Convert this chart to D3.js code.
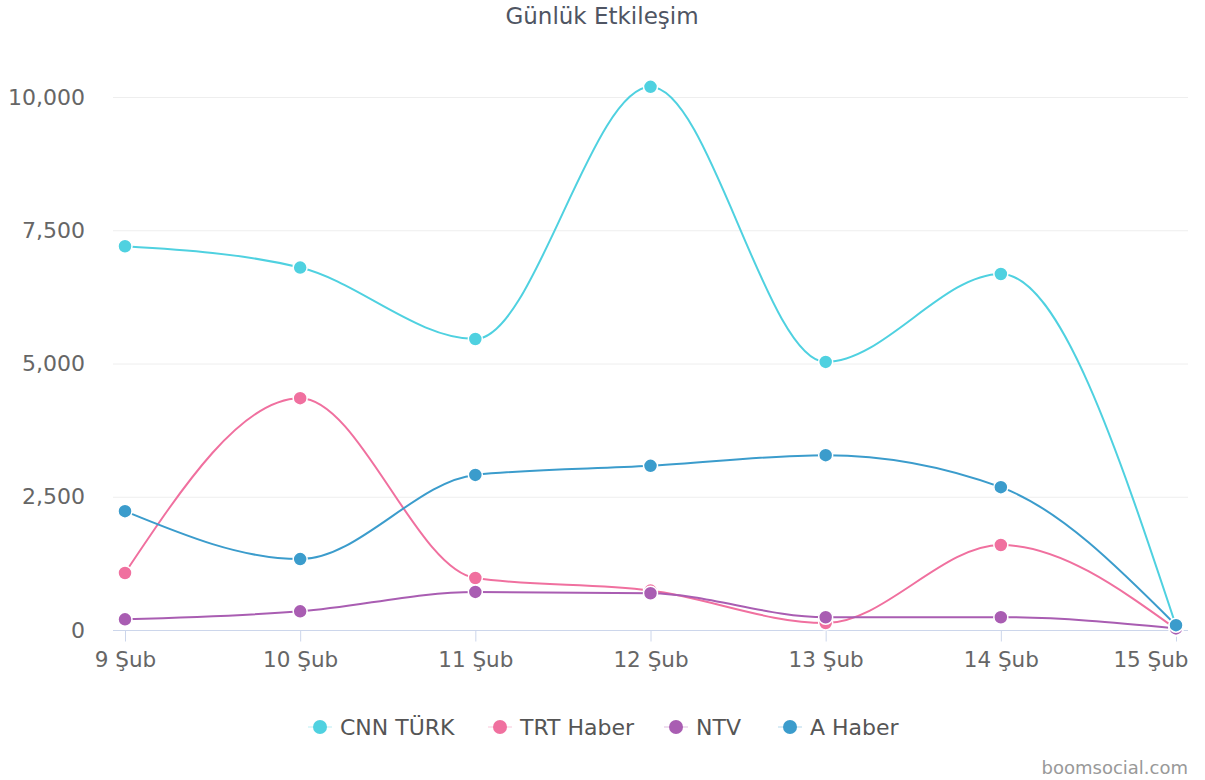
<!DOCTYPE html>
<html>
<head>
<meta charset="utf-8">
<script src="https://cdn.jsdelivr.net/npm/d3@7"></script>
<style>
  body { margin: 0; background: #fff; }
  text { font-family: "DejaVu Sans", sans-serif; }
</style>
</head>
<body>
<div id="chart"></div>
<script>
// data
var days = ["9 Şub", "10 Şub", "11 Şub", "12 Şub", "13 Şub", "14 Şub", "15 Şub"];
var cnnTurk = [7200, 6800, 5460, 10190, 5030, 6680, 80];
var trtHaber = [1070, 4350, 975, 740, 130, 1595, 20];
var ntv = [200, 350, 715, 690, 240, 240, 30];
var aHaber = [2230, 1330, 2910, 3080, 3280, 2680, 90];
var yTicks = [0, 2500, 5000, 7500, 10000];

var series = [
  {name: "CNN TÜRK", color: "#4fd1e0", values: cnnTurk},
  {name: "TRT Haber", color: "#f0709f", values: trtHaber},
  {name: "NTV", color: "#a95db2", values: ntv},
  {name: "A Haber", color: "#3b9ccc", values: aHaber}
];

var width = 1205, height = 780;
var svg = d3.select("#chart").append("svg")
  .attr("width", width)
  .attr("height", height);

var x = d3.scalePoint()
  .domain(days)
  .range([125, 1176]);

var y = d3.scaleLinear()
  .domain([0, 10000])
  .range([630, 97]);

// title
svg.append("text")
  .attr("x", 602)
  .attr("y", 24)
  .attr("text-anchor", "middle")
  .attr("fill", "#4f5563")
  .style("font-size", "23px")
  .text("Günlük Etkileşim");

// grid lines
svg.append("g")
  .selectAll("line")
  .data(yTicks.slice(1))
  .join("line")
  .attr("x1", 113)
  .attr("x2", 1188)
  .attr("y1", function(d) { return y(d) + 0.5; })
  .attr("y2", function(d) { return y(d) + 0.5; })
  .attr("stroke", "#eeeeee")
  .attr("stroke-width", 1);

// y axis labels
var yAxis = svg.append("g")
  .attr("transform", "translate(85,0)")
  .call(d3.axisLeft(y).tickValues(yTicks).tickSize(0).tickPadding(0)
    .tickFormat(d3.format(",")));
yAxis.select(".domain").remove();
yAxis.selectAll("text")
  .attr("fill", "#666")
  .style("font-size", "22px")
  .style("font-family", "DejaVu Sans, sans-serif");

// x axis
var xAxis = svg.append("g")
  .attr("transform", "translate(0,630.5)")
  .call(d3.axisBottom(x).tickSize(11).tickPadding(10).tickSizeOuter(0));
xAxis.select(".domain")
  .attr("d", "M113,0H1188")
  .attr("stroke", "#ccd6eb");
xAxis.selectAll(".tick line").attr("stroke", "#ccd6eb");
xAxis.selectAll("text")
  .attr("fill", "#666")
  .style("font-size", "21.5px")
  .style("font-family", "DejaVu Sans, sans-serif");
// last label pushed inside the chart like the original
xAxis.selectAll(".tick text")
  .filter(function(d) { return d === days[days.length - 1]; })
  .attr("text-anchor", "end")
  .attr("x", 12);

// lines
var line = d3.line()
  .x(function(d, i) { return x(days[i]); })
  .y(function(d) { return y(d); })
  .curve(d3.curveMonotoneX);

series.forEach(function(s) {
  svg.append("path")
    .datum(s.values)
    .attr("fill", "none")
    .attr("stroke", s.color)
    .attr("stroke-width", 2)
    .attr("d", line);
});

// markers
series.forEach(function(s) {
  svg.append("g")
    .selectAll("circle")
    .data(s.values)
    .join("circle")
    .attr("cx", function(d, i) { return x(days[i]); })
    .attr("cy", function(d) { return y(d); })
    .attr("r", 7)
    .attr("fill", s.color)
    .attr("stroke", "#fff")
    .attr("stroke-width", 1.5);
});

// legend
var legendX = [320, 500, 676, 790];
var legend = svg.append("g")
  .selectAll("g")
  .data(series)
  .join("g")
  .attr("transform", function(d, i) { return "translate(" + legendX[i] + ",727)"; });
legend.append("line")
  .attr("x1", -12).attr("x2", 12)
  .attr("stroke", function(d) { return d.color; })
  .attr("stroke-width", 1)
  .attr("stroke-opacity", 0.4);
legend.append("circle")
  .attr("r", 7)
  .attr("fill", function(d) { return d.color; });
legend.append("text")
  .attr("x", 20)
  .attr("y", 8)
  .attr("fill", "#555")
  .style("font-size", "22px")
  .text(function(d) { return d.name; });

// credits
svg.append("text")
  .attr("x", 1188)
  .attr("y", 774)
  .attr("text-anchor", "end")
  .attr("fill", "#999")
  .style("font-size", "18px")
  .text("boomsocial.com");
</script>
</body>
</html>
